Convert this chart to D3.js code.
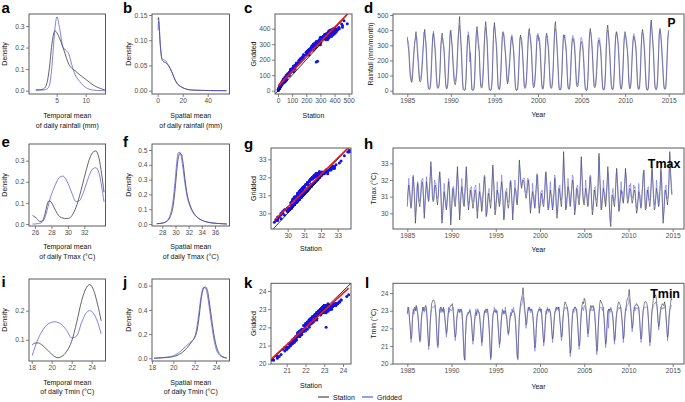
<!DOCTYPE html>
<html><head><meta charset="utf-8">
<script src="https://cdn.jsdelivr.net/npm/d3@7"></script>
<style>body{margin:0;background:#fff}svg{display:block}text{font-family:'Liberation Sans',Arial,Helvetica,sans-serif}</style>
</head><body>
<script>
// ---------------- DATA ----------------
const yearTicks = [1985,1990,1995,2000,2005,2010,2015];
const seriesNames = ["Station","Gridded"];

// a: temporal mean of daily rainfall (density)
const densA_x = [1.4,2.0,2.5,2.9,3.2,3.5,3.8,4.1,4.4,4.7,5.05,5.5,6.1,6.7,7.1,7.6,8.2,9.0,10.0,10.6,11.3,12.0,12.5,13.3];
const densA_station = [0.003,0.004,0.006,0.012,0.025,0.06,0.12,0.2,0.255,0.278,0.268,0.243,0.2,0.15,0.122,0.104,0.092,0.073,0.053,0.04,0.026,0.016,0.011,0.003];
const densA_gridded = [0.003,0.003,0.003,0.004,0.006,0.012,0.03,0.09,0.19,0.29,0.343,0.29,0.2,0.185,0.17,0.12,0.073,0.042,0.015,0.007,0.003,0.001,0.0005,0.0002];
// b: spatial mean of daily rainfall
const densB_x = [0.3,0.7,1.2,1.9,2.6,3.2,4.0,5.0,6.0,7.0,8.5,10.0,11.2,12.5,13.9,15.5,17.9,20.0,23.0,27.0,34.0,42.0,50.0,55.0];
const densB_station = [0.14,0.145,0.125,0.095,0.075,0.064,0.059,0.057,0.056,0.054,0.05,0.044,0.038,0.03,0.022,0.015,0.009,0.006,0.003,0.0015,0.0007,0.0003,0.0001,0.0];
const densB_gridded = [0.12,0.138,0.13,0.1,0.078,0.066,0.062,0.061,0.06,0.057,0.051,0.044,0.037,0.029,0.021,0.014,0.009,0.006,0.003,0.0015,0.0007,0.0003,0.0001,0.0];
// e: temporal mean of daily Tmax
const densE_x = [25.7,26.0,26.3,26.6,26.9,27.2,27.5,27.7,27.95,28.3,28.7,29.0,29.4,29.8,30.1,30.5,31.0,31.4,31.8,32.2,32.6,33.0,33.4,33.8,34.1,34.4];
const densE_station = [0.040,0.033,0.022,0.012,0.015,0.045,0.095,0.11,0.105,0.08,0.05,0.035,0.028,0.026,0.027,0.04,0.08,0.13,0.19,0.25,0.305,0.338,0.346,0.31,0.24,0.15];
const densE_gridded = [0.0,0.0,0.002,0.004,0.01,0.03,0.07,0.1,0.135,0.17,0.205,0.222,0.227,0.21,0.185,0.145,0.106,0.11,0.14,0.185,0.23,0.26,0.267,0.24,0.18,0.105];
// f: spatial mean of daily Tmax
const densF_x = [27.15,28.15,28.66,29.16,29.67,30.0,30.18,30.4,30.68,30.9,31.19,31.45,31.7,32.2,32.7,33.2,33.7,34.8,36.3,37.8];
const densF_station = [0.002,0.007,0.017,0.045,0.13,0.26,0.35,0.44,0.477,0.47,0.4,0.3,0.22,0.13,0.08,0.05,0.033,0.013,0.004,0.0];
const densF_gridded = [0.002,0.008,0.02,0.055,0.17,0.32,0.41,0.48,0.485,0.45,0.36,0.27,0.2,0.12,0.075,0.048,0.032,0.013,0.004,0.0];
// i: temporal mean of daily Tmin
const densI_x = [18.05,18.3,18.6,19.0,19.5,20.0,20.3,20.6,21.0,21.5,22.0,22.5,23.0,23.4,23.8,24.2,24.6,24.95];
const densI_station = [0.082,0.088,0.089,0.083,0.067,0.05,0.042,0.038,0.042,0.06,0.095,0.16,0.235,0.275,0.29,0.27,0.22,0.165];
const densI_gridded = [0.045,0.072,0.1,0.127,0.15,0.16,0.162,0.16,0.152,0.132,0.106,0.113,0.16,0.19,0.2,0.19,0.16,0.12];
// j: spatial mean of daily Tmin
const densJ_x = [18.2,19.0,19.5,20.0,20.5,21.0,21.5,21.8,22.0,22.2,22.4,22.6,22.8,23.0,23.2,23.4,23.6,23.8,24.0,24.3,24.6,25.0];
const densJ_station = [0.001,0.004,0.008,0.014,0.03,0.06,0.11,0.145,0.17,0.22,0.33,0.48,0.57,0.59,0.56,0.45,0.32,0.2,0.11,0.04,0.015,0.003];
const densJ_gridded = [0.001,0.005,0.01,0.02,0.045,0.085,0.125,0.15,0.175,0.25,0.38,0.51,0.585,0.58,0.52,0.4,0.27,0.16,0.08,0.03,0.01,0.002];

// monthly rainfall (mm/month), Jan 1985 .. Jan 2015
const rainStation = [
355,300,265,170,95,70,55,80,150,230,300,350,
390,330,250,180,110,62,58,70,120,200,290,370,
405,345,270,150,60,15,8,10,30,110,240,360,
380,330,280,200,90,25,15,18,40,120,250,350,
380,320,300,220,110,30,12,15,50,150,270,370,
400,340,260,170,90,50,40,60,110,210,330,420,
490,380,290,180,60,8,3,2,10,80,220,350,
368,330,280,220,90,5,2,3,15,90,250,380,
423,360,280,260,120,30,18,20,60,160,300,410,
456,400,300,180,50,5,2,2,12,80,250,400,
450,390,340,260,130,25,10,8,35,120,260,380,
390,360,300,250,170,80,45,60,110,180,260,330,
357,320,280,200,90,15,3,2,10,70,200,330,
368,330,290,220,110,30,15,20,55,150,280,390,
411,360,310,250,140,40,20,25,70,160,290,360,
368,340,320,260,150,40,12,10,40,130,270,360,
380,330,290,210,100,25,15,18,50,140,290,420,
456,380,300,210,90,15,5,5,20,110,260,350,
368,340,300,250,130,30,10,10,30,110,240,320,
346,330,300,230,120,40,25,30,70,160,260,320,
324,300,260,180,80,15,3,2,15,90,240,380,
411,370,310,230,120,35,20,25,60,140,240,320,
335,310,280,200,90,15,5,5,25,110,270,400,
434,380,300,220,110,25,8,6,20,100,250,370,
390,360,320,250,150,40,12,10,40,130,260,370,
390,350,300,270,180,60,15,12,40,130,250,330,
360,340,310,260,150,40,10,8,25,110,260,380,
405,360,300,220,110,20,5,3,15,100,280,430,
467,400,320,240,120,25,8,6,20,90,230,370,
411,370,300,210,130,40,12,8,20,90,230,360,
400];
const rainGridded = [
340,330,300,215,130,95,62,115,195,262,318,335,
362,358,292,228,145,70,85,104,160,245,296,388,
372,335,318,198,95,28,12,20,55,150,285,340,
395,362,310,248,118,45,22,26,62,138,300,330,
352,348,296,268,150,48,20,30,88,196,282,390,
372,328,298,205,138,78,60,92,122,258,352,392,
432,390,322,232,95,15,6,5,22,112,262,330,
390,355,190,252,135,10,4,6,30,128,300,360,
398,385,316,300,150,55,30,42,100,208,310,382,
420,372,345,225,82,12,4,6,28,98,290,405,
430,400,330,305,175,40,18,12,66,165,288,360,
365,378,338,262,215,110,55,98,158,205,305,352,
370,345,295,245,128,30,5,4,25,110,232,352,
350,352,325,230,155,58,25,38,80,190,300,372,
380,372,342,295,172,62,35,48,110,188,320,375,
380,330,352,298,195,72,20,18,72,170,185,345,
365,362,318,255,140,40,26,34,85,178,298,395,
410,385,336,238,138,30,9,10,45,150,282,372,
352,368,322,280,168,58,18,16,52,158,282,345,
365,342,340,262,160,70,38,55,105,205,275,352,
350,328,300,220,120,28,6,4,30,130,288,365,
385,385,335,272,155,65,32,40,95,172,285,338,
350,342,300,250,130,32,10,9,48,145,300,380,
400,372,332,260,150,50,15,12,40,142,285,352,
372,382,338,300,180,72,22,18,75,165,300,358,
362,365,335,295,225,95,26,20,68,178,282,350,
378,355,330,290,192,70,18,14,50,150,275,362,
385,378,338,262,148,40,10,6,35,140,310,410,
452,385,350,282,158,45,15,12,42,132,268,388,
398,380,330,250,170,68,20,14,40,128,272,350,
385];

// monthly Tmax (°C), Jan 1985 .. Dec 2014
const tmaxStation = [
30.4,31.2,31.7,31.3,30.7,30.3,30.6,31.4,32.2,31.6,30.6,29.4,
30.2,31.0,31.8,31.2,30.6,30.4,30.8,31.5,31.9,31.7,30.8,29.7,
30.4,31.2,31.9,31.4,30.9,30.7,31.2,32.1,33.1,32.2,31.0,30.7,
30.8,31.6,31.7,31.3,30.8,30.5,31.0,31.8,32.5,31.8,30.5,29.4,
29.8,30.7,31.3,30.9,30.5,30.2,30.6,31.3,31.9,31.4,30.4,29.3,
30.2,30.9,31.5,31.1,30.6,30.4,30.9,31.7,32.8,31.8,30.6,29.6,
30.3,31.2,31.6,31.1,30.6,30.4,30.9,31.8,32.8,31.6,30.8,30.2,
30.6,31.0,31.4,31.1,30.7,30.3,30.6,31.0,31.4,31.2,30.5,29.7,
30.3,30.8,31.3,31.0,30.6,30.1,30.5,31.2,31.8,32.2,31.0,29.8,
30.0,30.6,31.2,31.0,30.6,30.3,30.8,31.7,32.9,32.0,30.9,29.9,
30.2,30.8,31.4,31.1,30.7,30.4,30.7,31.4,31.9,31.5,30.4,29.6,
30.1,30.8,31.3,31.0,30.6,30.3,30.6,31.3,31.9,31.4,30.6,29.6,
30.3,31.0,31.5,31.3,30.8,30.5,31.0,31.9,33.2,32.6,31.8,31.5,
31.8,32.0,31.9,31.6,31.2,30.9,31.1,31.6,32.0,31.6,30.8,30.0,
30.4,30.9,31.3,31.0,30.6,30.3,30.8,31.6,32.3,31.7,30.7,30.0,
30.4,30.8,31.2,30.9,30.5,30.4,30.9,31.7,32.5,31.8,30.8,30.2,
30.3,30.9,31.4,31.1,30.6,30.2,30.5,31.2,32.1,31.5,30.5,29.7,
30.2,30.9,31.5,31.2,30.7,30.4,31.0,31.8,33.7,32.4,31.2,30.2,
30.4,31.0,31.6,31.3,30.8,30.4,30.8,31.4,32.0,31.8,30.8,29.9,
30.2,30.9,31.5,31.2,30.8,30.5,31.0,31.9,33.4,32.3,31.1,30.6,
30.5,31.0,31.5,31.2,30.7,30.4,30.8,31.5,32.2,31.7,30.7,29.9,
30.2,30.9,31.4,31.1,30.7,30.4,30.9,31.8,33.6,32.4,31.1,30.2,
30.4,31.0,31.5,31.2,30.7,30.4,30.9,31.7,32.8,31.9,30.5,29.5,
29.2,30.3,31.1,31.0,30.6,30.4,30.9,31.8,32.7,31.8,30.8,30.1,
30.3,30.9,31.4,31.1,30.8,30.6,31.0,31.8,32.7,31.9,31.0,30.6,
30.8,31.2,31.5,31.3,30.9,30.6,30.8,31.2,31.4,31.2,30.6,30.0,
30.2,30.8,31.3,31.0,30.6,30.3,30.7,31.5,32.3,32.6,31.0,30.2,
30.3,30.9,31.4,31.1,30.7,30.4,30.9,31.8,32.8,31.9,30.9,30.2,
30.3,30.9,31.5,31.2,30.7,30.4,30.8,31.6,32.7,31.8,30.6,29.4,
30.0,30.8,31.4,31.2,30.8,30.5,31.0,32.0,33.7,32.6,31.5,31.1];
const tmaxGridded = [
30.8,31.4,32.1,31.5,31.2,30.4,30.9,31.9,32.3,31.7,31.0,29.8,
30.3,31.5,31.9,31.7,30.7,30.8,31.0,32.0,32.0,32.1,30.9,30.0,
30.9,31.3,32.2,31.6,31.4,30.8,31.6,32.2,32.8,32.2,31.5,30.8,
30.9,32.0,31.8,31.8,31.0,30.9,31.1,32.2,32.4,31.9,30.9,29.6,
30.2,30.8,31.8,31.1,30.9,30.3,31.0,31.5,32.1,31.9,30.5,29.6,
30.3,31.4,31.6,31.6,30.7,30.8,31.1,32.1,32.5,31.9,31.0,29.9,
30.7,31.3,32.1,31.3,31.1,30.5,31.4,31.9,32.6,32.1,30.9,30.5,
30.7,31.5,31.5,31.6,30.8,30.7,30.7,31.5,31.6,31.7,30.6,30.1,
30.7,30.9,31.8,31.1,31.0,30.2,30.9,31.3,32.2,32.3,31.5,29.9,
30.1,31.0,31.3,31.5,30.7,30.7,30.9,32.1,32.7,32.1,31.3,30.2,
30.6,30.9,31.9,31.2,31.2,30.5,31.1,31.5,32.3,31.6,30.9,29.7,
30.2,31.3,31.4,31.5,30.7,30.7,30.7,31.8,32.0,31.9,30.7,30.0,
30.7,31.1,32.0,31.4,31.3,30.6,31.5,32.0,32.9,32.5,32.0,31.6,
31.9,32.1,32.1,32.1,31.3,31.3,31.2,32.1,32.1,32.0,30.9,30.3,
30.8,31.0,31.8,31.1,31.1,30.4,31.2,31.7,32.4,32.2,30.8,30.3,
30.5,31.3,31.3,31.4,30.6,30.8,31.0,32.2,32.4,31.9,31.3,30.3,
30.7,31.0,31.9,31.2,31.1,30.3,30.9,31.3,32.3,32.0,30.6,30.0,
30.3,31.4,31.6,31.7,30.8,30.8,31.1,32.2,33.4,32.3,31.6,30.3,
30.8,31.1,32.1,31.4,31.3,30.5,31.2,31.5,32.3,32.2,30.9,30.2,
30.3,31.4,31.6,31.7,30.9,30.9,31.1,32.3,33.2,32.3,31.6,30.7,
30.9,31.1,32.0,31.3,31.2,30.5,31.2,31.6,32.3,32.2,30.8,30.2,
30.3,31.4,31.5,31.6,30.8,30.8,31.0,32.2,33.4,32.2,31.6,30.3,
30.8,31.1,32.0,31.3,31.2,30.5,31.3,31.8,32.5,32.3,30.6,29.8,
29.5,30.8,31.2,31.5,30.7,30.8,31.0,32.2,32.6,31.9,31.3,30.2,
30.7,31.0,31.9,31.2,31.3,30.7,31.4,31.9,32.5,32.3,31.1,30.9,
30.9,31.7,31.6,31.8,31.0,31.0,30.9,31.7,31.5,31.6,30.7,30.3,
30.6,30.9,31.8,31.1,31.1,30.4,31.1,31.6,32.4,32.5,31.5,30.3,
30.4,31.4,31.5,31.6,30.8,30.8,31.0,32.2,32.6,32.0,31.3,30.5,
30.7,31.0,32.0,31.3,31.2,30.5,31.2,31.7,32.5,32.2,30.7,29.7,
30.1,31.3,31.5,31.7,30.9,30.9,31.1,32.2,33.5,32.4,31.9,31.2];

// monthly Tmin (°C), Jan 1985 .. Dec 2014
const tminStation = [
22.8,23.2,23.0,22.6,22.0,21.4,21.6,22.5,22.9,23.1,23.2,23.0,
23.3,23.1,22.9,22.4,21.8,21.3,21.5,22.4,22.9,23.2,23.0,23.1,
23.2,23.3,23.0,22.5,21.6,21.0,21.2,22.2,22.9,23.4,23.5,23.6,
23.6,23.5,23.3,22.6,21.8,21.0,21.1,22.3,23.0,23.2,23.1,23.0,
23.0,23.2,22.9,22.6,22.1,21.7,21.9,22.6,23.0,23.1,23.2,23.3,
23.3,23.4,23.1,22.6,21.9,21.5,21.7,22.4,22.9,23.0,23.1,22.9,
23.0,23.1,22.9,22.4,21.4,20.5,20.2,21.6,22.4,22.7,22.8,22.9,
22.9,23.0,22.8,22.4,21.8,21.3,21.5,22.2,22.7,22.9,22.8,23.0,
23.0,22.9,22.7,22.3,21.7,21.2,21.4,22.2,22.7,23.0,22.9,23.0,
23.1,22.9,22.6,22.0,21.2,20.3,20.5,21.8,22.6,22.9,23.0,23.0,
22.9,23.0,22.8,22.3,21.6,21.1,21.3,22.1,22.7,22.9,23.0,22.8,
22.9,23.0,22.8,22.5,22.0,21.7,21.9,22.4,22.7,22.8,22.9,23.0,
23.0,22.9,22.7,22.2,21.4,20.5,20.3,21.6,22.6,23.2,23.5,23.7,
23.9,24.3,23.8,23.3,22.7,22.2,22.3,22.8,23.1,23.2,23.1,23.0,
23.1,23.0,22.8,22.3,21.6,20.9,21.1,22.0,22.6,22.9,23.0,23.1,
23.0,23.1,22.9,22.4,21.7,21.2,21.4,22.2,22.8,23.0,23.1,23.0,
23.1,23.0,22.9,22.5,21.9,21.4,21.6,22.3,22.8,23.0,23.2,23.1,
23.1,23.2,23.0,22.5,22.0,21.5,21.6,22.4,22.9,23.3,23.5,23.4,
23.3,23.2,22.9,22.3,21.5,20.6,20.8,21.9,22.7,23.0,23.1,23.2,
23.2,23.1,22.9,22.4,21.6,21.0,21.2,22.1,22.8,23.3,23.5,23.4,
23.7,23.6,23.3,22.8,22.2,21.7,21.9,22.6,23.1,23.3,23.2,23.2,
23.3,23.1,22.9,22.3,21.5,20.7,20.9,22.0,22.8,23.4,23.6,23.5,
23.4,23.3,23.0,22.5,21.8,21.1,21.3,22.2,22.8,23.1,23.0,23.1,
23.1,23.0,22.9,22.5,21.9,21.3,21.5,22.3,22.8,23.2,23.4,23.5,
23.4,23.3,23.0,22.6,22.0,21.4,21.6,22.5,23.0,23.3,23.6,23.7,
23.8,24.2,23.7,23.2,22.5,22.0,22.2,22.8,23.2,23.3,23.3,23.4,
23.3,23.3,23.1,22.6,21.9,21.4,21.6,22.4,23.0,23.3,23.5,23.5,
23.5,23.4,23.1,22.5,21.8,21.2,21.4,22.3,23.0,23.4,23.7,23.8,
23.8,23.9,23.6,23.1,22.5,22.1,22.3,22.8,23.1,23.3,23.4,23.3,
23.3,23.5,23.2,22.6,22.0,21.5,21.7,22.5,23.0,23.4,23.7,23.6];
const tminGridded = [
22.9,23.0,23.2,22.4,22.1,21.2,21.5,22.6,23.1,22.8,23.1,23.1,
23.0,23.2,22.8,22.6,21.6,21.2,21.3,22.6,22.8,23.0,23.2,22.9,
23.1,23.0,23.2,22.4,21.7,20.8,21.1,22.4,22.8,23.1,23.2,23.2,
23.2,23.3,23.0,22.8,21.6,20.9,20.9,22.5,23.1,22.9,23.2,22.9,
23.1,22.9,23.1,22.5,22.2,21.5,21.9,22.5,23.2,22.9,23.1,23.0,
23.0,23.1,23.2,22.7,21.8,21.3,21.7,22.6,22.8,23.1,22.9,23.0,
23.1,22.9,23.0,22.3,21.4,20.3,20.2,21.6,22.6,22.8,22.9,22.8,
23.0,23.1,22.7,22.6,21.7,21.1,21.5,22.4,22.8,23.1,22.7,23.1,
23.1,22.9,22.9,22.2,21.8,21.0,21.3,22.4,22.9,22.9,23.1,22.9,
22.9,23.1,22.7,22.0,21.1,20.2,20.4,21.9,22.8,22.9,23.2,22.9,
23.1,22.9,23.0,22.2,21.7,20.9,21.3,22.3,22.7,23.1,22.9,23.0,
22.9,23.2,22.7,22.7,21.9,21.6,21.8,22.6,22.9,22.7,23.1,22.9,
23.2,22.9,22.8,22.2,21.3,20.4,20.2,21.7,22.7,23.0,23.3,23.3,
23.5,23.8,23.4,23.0,22.8,22.0,22.3,22.9,23.2,23.0,23.2,22.9,
22.9,23.1,22.9,22.4,21.5,20.7,21.1,22.2,22.8,22.9,23.0,23.2,
23.2,22.9,23.1,22.3,21.8,21.0,21.3,22.4,23.0,22.8,23.2,23.0,
22.9,23.1,23.0,22.6,21.8,21.2,21.6,22.5,22.9,23.1,23.0,23.2,
23.2,23.0,23.2,22.4,22.1,21.3,21.6,22.6,23.0,23.1,23.2,23.1,
23.1,23.2,22.9,22.5,21.4,20.4,20.8,22.1,22.8,23.1,22.9,23.2,
23.2,23.0,23.1,22.3,21.7,20.8,21.1,22.3,23.0,23.1,23.2,23.0,
23.3,23.2,23.1,23.0,22.1,21.5,21.9,22.8,23.1,23.0,23.2,23.0,
23.0,23.2,23.0,22.4,21.5,20.5,20.9,22.2,22.9,23.1,23.2,23.2,
23.1,23.0,23.2,22.6,21.7,20.9,21.3,22.4,23.0,22.0,23.1,22.9,
23.2,23.1,22.8,22.7,21.8,21.1,21.5,22.5,22.9,23.0,23.1,23.2,
23.1,23.2,23.1,22.6,22.1,21.2,21.6,22.6,23.1,23.0,23.3,23.3,
23.4,23.7,23.3,23.1,22.6,21.8,22.2,22.9,23.2,23.0,23.2,23.1,
23.1,23.2,23.2,22.7,21.9,21.2,21.5,22.6,23.1,23.1,23.2,23.2,
23.2,23.2,23.2,22.6,21.8,21.0,21.4,22.5,23.1,23.1,23.3,23.4,
23.4,23.5,23.3,23.2,22.5,21.9,22.3,22.9,23.2,23.1,23.1,23.2,
23.1,23.2,23.3,22.6,22.1,21.3,21.7,22.7,23.1,23.1,23.3,23.3];

// ---------------- DRAWING ----------------
const svg = d3.select("body").append("svg").attr("width",685).attr("height",402);
const TICKTXT = "#4d4d4d", BORDER = "#5a5a5a";
const C_ST = "#222222", C_GR = "#4a4ad8";

function panel(p){
  const x = d3.scaleLinear().domain([p.xr[0],p.xr[2]]).range([p.xr[1],p.xr[3]]);
  const y = d3.scaleLinear().domain([p.yr[0],p.yr[2]]).range([p.yr[1],p.yr[3]]);
  const [x0,y0,x1,y1] = p.box;
  const id = "clip_"+p.letter;
  svg.append("clipPath").attr("id",id).append("rect")
     .attr("x",x0).attr("y",y0).attr("width",x1-x0).attr("height",y1-y0);
  const g = svg.append("g").attr("clip-path",`url(#${id})`);
  const ax = svg.append("g").attr("transform",`translate(0,${y1})`)
     .call(d3.axisBottom(x).tickValues(p.xt).tickFormat(p.xf?d3.format(p.xf):d3.format("d")).tickSize(3).tickPadding(1.5));
  const ay = svg.append("g").attr("transform",`translate(${x0},0)`)
     .call(d3.axisLeft(y).tickValues(p.yt).tickFormat(p.yf?d3.format(p.yf):d3.format("d")).tickSize(3).tickPadding(1.5));
  [ax,ay].forEach(a=>{
    a.select(".domain").remove();
    a.selectAll("line").attr("stroke","#333").attr("stroke-width",0.6);
    a.selectAll("text").attr("fill",TICKTXT).style("font-size","6.7px").style("font-family","'Liberation Sans',Arial,sans-serif");
  });
  p.xlab.forEach((t,i)=>{
    svg.append("text").attr("x",(x0+x1)/2).attr("y",p.xlabY+i*9.3).attr("text-anchor","middle")
      .style("font-size","7px").attr("fill","#111").text(t);
  });
  svg.append("text").attr("transform",`translate(${p.ylabX},${(y0+y1)/2}) rotate(-90)`)
     .attr("text-anchor","middle").style("font-size","7px").attr("fill","#111").text(p.ylab);
  svg.append("text").attr("x",p.lx).attr("y",p.ly).style("font-size","15px").style("font-weight","bold")
     .attr("fill","#000").text(p.letter);
  return {x,y,g,p};
}
function frame(P){
  const [x0,y0,x1,y1] = P.p.box;
  svg.append("rect").attr("x",x0).attr("y",y0).attr("width",x1-x0).attr("height",y1-y0)
     .attr("fill","none").attr("stroke",BORDER).attr("stroke-width",1);
}
function density(P, xs, st, gr){
  const line = d3.line().x(d=>P.x(d[0])).y(d=>P.y(d[1])).curve(d3.curveMonotoneX);
  P.g.append("path").attr("d",line(d3.zip(xs,st))).attr("fill","none").attr("stroke",C_ST).attr("stroke-width",0.7);
  P.g.append("path").attr("d",line(d3.zip(xs,gr))).attr("fill","none").attr("stroke",C_GR).attr("stroke-width",0.7);
  frame(P);
}
function lm(xs,ys){
  const mx=d3.mean(xs), my=d3.mean(ys); let sxy=0,sxx=0;
  xs.forEach((v,i)=>{sxy+=(v-mx)*(ys[i]-my); sxx+=(v-mx)*(v-mx);});
  const b=sxy/sxx; return {a:my-b*mx,b};
}
function scatter(P, st, gr){
  const n=Math.min(st.length,gr.length);
  const pts=d3.range(n).map(i=>[st[i],gr[i]]);
  P.g.selectAll(null).data(pts).join("circle").attr("cx",d=>P.x(d[0])).attr("cy",d=>P.y(d[1]))
     .attr("r",1.5).attr("fill","#1414e6");
  const dx=[P.x.invert(P.p.box[0]),P.x.invert(P.p.box[2])];
  P.g.append("line").attr("x1",P.x(dx[0])).attr("y1",P.y(dx[0])).attr("x2",P.x(dx[1])).attr("y2",P.y(dx[1]))
     .attr("stroke","#000").attr("stroke-width",0.8);
  const f=lm(pts.map(d=>d[0]),pts.map(d=>d[1]));
  const ex=d3.extent(pts,d=>d[0]);
  P.g.append("line").attr("x1",P.x(ex[0])).attr("y1",P.y(f.a+f.b*ex[0])).attr("x2",P.x(ex[1])).attr("y2",P.y(f.a+f.b*ex[1]))
     .attr("stroke","#f01818").attr("stroke-width",1.6);
  frame(P);
}
function timeseries(P, st, gr, label, lab){
  const line = d3.line().x((d,i)=>P.x(1985+i/12)).y(d=>P.y(d));
  P.g.append("path").attr("d",line(st)).attr("fill","none").attr("stroke",C_ST).attr("stroke-width",0.55);
  P.g.append("path").attr("d",line(gr)).attr("fill","none").attr("stroke","#5858dc").attr("stroke-width",0.55).attr("opacity",0.9);
  frame(P);
  svg.append("text").attr("x",lab[0]).attr("y",lab[1]).attr("text-anchor","end")
     .style("font-size",lab[2]+"px").style("font-weight","bold").text(label);
}

// Row 1
const A = panel({letter:"a",lx:1.5,ly:13,box:[29,14,105.5,94],xr:[5,56.7,10,85.7],yr:[0,90.7,0.3,26],
  xt:[5,10],yt:[0,0.1,0.2,0.3],yf:".1f",xlab:["Temporal mean","of daily rainfall (mm)"],xlabY:118.2,ylab:"Density",ylabX:6.5});
density(A,densA_x,densA_station,densA_gridded);
const B = panel({letter:"b",lx:123,ly:13,box:[152,14,229.5,94],xr:[0,157.7,20,182.7],yr:[0,90.7,0.15,15],
  xt:[0,20,40],yt:[0,0.05,0.1,0.15],yf:".2f",xlab:["Spatial mean","of daily rainfall (mm)"],xlabY:118.2,ylab:"Density",ylabX:131});
density(B,densB_x,densB_station,densB_gridded);
const Cc = panel({letter:"c",lx:244,ly:13,box:[275,14,352,94],xr:[0,278,500,348.7],yr:[0,90.7,400,28.7],
  xt:[0,100,200,300,400,500],yt:[0,100,200,300,400],xlab:["Station"],xlabY:117.5,ylab:"Gridded",ylabX:256});
scatter(Cc,rainStation,rainGridded);
const D = panel({letter:"d",lx:364,ly:13,box:[393,14,684,94],xr:[1985,407.3,2015,668.7],yr:[0,90.7,500,15],
  xt:yearTicks,yt:[0,100,200,300,400,500],xlab:["Year"],xlabY:116.5,ylab:"Rainfall (mm/month)",ylabX:373});
timeseries(D,rainStation,rainGridded,"P",[675.5,26.7,12]);

// Row 2
const E = panel({letter:"e",lx:1.5,ly:146.5,box:[29,144,105.5,226],xr:[26,35,32,84.3],yr:[0,224,0.3,160.7],
  xt:[26,28,30,32],yt:[0,0.1,0.2,0.3],yf:".1f",xlab:["Temporal mean","of daily Tmax (°C)"],xlabY:249.2,ylab:"Density",ylabX:6.5});
density(E,densE_x,densE_station,densE_gridded);
const F = panel({letter:"f",lx:123,ly:146.5,box:[152,144,229.5,226],xr:[28,162.3,36,215],yr:[0,224,0.5,150],
  xt:[28,30,32,34,36],yt:[0,0.1,0.2,0.3,0.4,0.5],yf:".1f",xlab:["Spatial mean","of daily Tmax (°C)"],xlabY:249.2,ylab:"Density",ylabX:131});
density(F,densF_x,densF_station,densF_gridded);
const G = panel({letter:"g",lx:244,ly:148.5,box:[271,148,351,229],xr:[30,287.7,33,337.7],yr:[30,213.3,33,159.3],
  xt:[30,31,32,33],yt:[30,31,32,33],xlab:["Station"],xlabY:250.8,ylab:"Gridded",ylabX:256});
scatter(G,tmaxStation,tmaxGridded);
const Hh = panel({letter:"h",lx:364,ly:149,box:[393,148,684,229],xr:[1985,407.3,2015,672.7],yr:[30,213.3,33,163.3],
  xt:yearTicks,yt:[30,31,32,33],xlab:["Year"],xlabY:251.8,ylab:"Tmax (°C)",ylabX:375.5});
timeseries(Hh,tmaxStation,tmaxGridded,"Tmax",[680.5,168.3,12.5]);

// Row 3
const I = panel({letter:"i",lx:1.5,ly:287,box:[29,279,105.5,361],xr:[18,31.7,24,91.7],yr:[0.1,339.7,0.2,310.7],
  xt:[18,20,22,24],yt:[0.1,0.2],yf:".1f",xlab:["Temporal mean","of daily Tmin (°C)"],xlabY:384.8,ylab:"Density",ylabX:6.5});
density(I,densI_x,densI_station,densI_gridded);
const J = panel({letter:"j",lx:123,ly:287,box:[152,279,229.5,361],xr:[20,173.3,24,216],yr:[0,358.3,0.6,285.7],
  xt:[18,20,22,24],yt:[0,0.2,0.4,0.6],yf:".1f",xlab:["Spatial mean","of daily Tmin (°C)"],xlabY:384.8,ylab:"Density",ylabX:131});
density(J,densJ_x,densJ_station,densJ_gridded);
const K = panel({letter:"k",lx:244,ly:288,box:[271,283.3,351,364],xr:[21,286.7,24,343],yr:[20,363.7,24,291],
  xt:[21,22,23,24],yt:[20,21,22,23,24],xlab:["Station"],xlabY:388.2,ylab:"Gridded",ylabX:256});
scatter(K,tminStation,tminGridded);
const L = panel({letter:"l",lx:365,ly:288,box:[393,283.3,684,364],xr:[1985,407.3,2015,672.7],yr:[20,363.7,24,293],
  xt:yearTicks,yt:[20,21,22,23,24],xlab:["Year"],xlabY:388.5,ylab:"Tmin (°C)",ylabX:375.5});
timeseries(L,tminStation,tminGridded,"Tmin",[680,297.7,12.5]);

// Legend
const leg = svg.append("g");
[[318,C_ST,seriesNames[0]],[362,"#3a3ae0",seriesNames[1]]].forEach(([lx,c,t])=>{
  leg.append("line").attr("x1",lx).attr("x2",lx+11).attr("y1",397).attr("y2",397).attr("stroke",c).attr("stroke-width",1);
  leg.append("text").attr("x",lx+15).attr("y",399.5).style("font-size","7px").attr("fill","#111").text(t);
});
</script></body></html>
